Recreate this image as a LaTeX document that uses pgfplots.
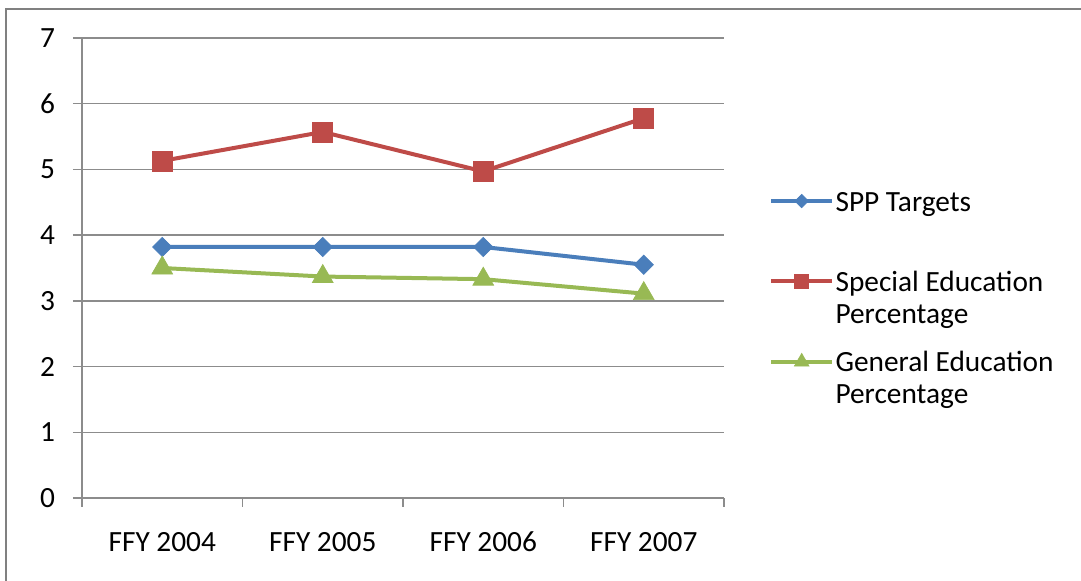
\documentclass[border=0pt]{standalone}
\usepackage{pgfplots}
\pgfplotsset{compat=1.18}
\usepackage{fontspec}
\setmainfont{Carlito}
\definecolor{cBlue}{RGB}{74,126,187}
\definecolor{cRed}{RGB}{190,75,72}
\definecolor{cGreen}{RGB}{152,185,84}
\definecolor{cGrid}{RGB}{140,140,140}
\definecolor{cFrame}{RGB}{128,128,128}
\begin{document}
\begin{tikzpicture}
\useasboundingbox (0,0) rectangle (810.75pt,435.75pt);
\draw[cFrame, line width=1.6pt] (4.5pt,-2pt) -- (4.5pt,429pt) -- (812pt,429pt);
\begin{axis}[
  at={(61.5pt,62.25pt)}, anchor=south west,
  scale only axis, width=481.5pt, height=345pt,
  xmin=-0.5, xmax=3.5, ymin=0, ymax=7,
  xtick={0,1,2,3},
  xticklabels={FFY 2004,FFY 2005,FFY 2006,FFY 2007},
  minor xtick={-0.5,0.5,1.5,2.5,3.5},
  ytick={0,1,2,3,4,5,6,7},
  axis x line=bottom, axis y line=left,
  axis line style={cGrid, line width=1.1pt, -},
  ymajorgrids, grid style={cGrid, line width=1.1pt},
  tick align=outside,
  major tick length=6.75pt, minor tick length=6.75pt,
  tick style={cGrid, line width=1.1pt},
  major x tick style={draw=none},
  ticklabel style={font=\fontsize{22}{24}\selectfont, text=black},
  xticklabel style={yshift=-15pt, text height=15pt, text depth=4pt},
  yticklabel style={xshift=-10pt},
  /pgf/number format/assume math mode=true,
  legend style={at={(1.070,0.4365)}, anchor=west, draw=none, fill=none,
    font=\fontsize{22}{24}\selectfont, inner sep=0pt,
    nodes={inner sep=0pt}, row sep=18pt, column sep=1pt,
    cells={anchor=base west, align=left}},
  legend image code/.code={\draw[mark repeat=2, mark phase=2, #1,
     /tikz/every mark/.append style={scale=0.7}]
     plot coordinates {(0pt,31.5pt) (22.875pt,31.5pt) (45.75pt,31.5pt)};},
]
\addplot[cBlue, line width=3pt, mark=square*, mark size=5.1pt,
  mark options={rotate=45, fill=cBlue, draw=cBlue, line width=0.5pt}]
  coordinates {(0,3.82) (1,3.82) (2,3.82) (3,3.55)};
\addlegendentry{\strut SPP Targets\\\strut}
\addplot[cRed, line width=3pt, mark=square*, mark size=7.5pt,
  mark options={fill=cRed, draw=cRed, line width=0.5pt}]
  coordinates {(0,5.13) (1,5.57) (2,4.97) (3,5.78)};
\addlegendentry{\strut Special Education\\\strut Percentage}
\addplot[cGreen, line width=3pt, mark=triangle*, mark size=9pt,
  mark options={fill=cGreen, draw=cGreen, line width=0.5pt}]
  coordinates {(0,3.50) (1,3.37) (2,3.33) (3,3.11)};
\addlegendentry{\strut General Education\\\strut Percentage}
\end{axis}
\end{tikzpicture}
\end{document}
